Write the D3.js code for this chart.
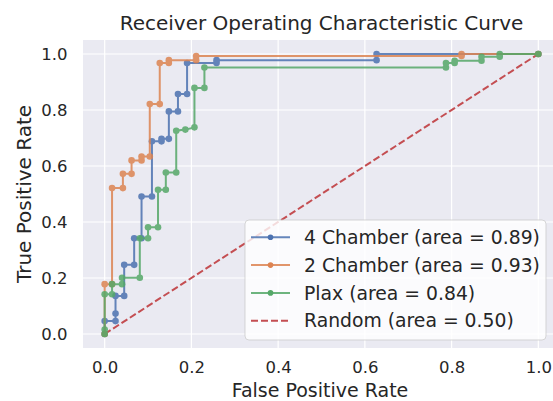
<!DOCTYPE html>
<html>
<head>
<meta charset="utf-8">
<script src="https://cdn.jsdelivr.net/npm/d3@7"></script>
<style>
  body { margin: 0; background: #ffffff; }
  text { font-family: "DejaVu Sans", sans-serif; fill: #262626; }
</style>
</head>
<body>
<div id="chart"></div>
<script>
// ROC points [fpr, tpr]
var fourChamber = [[0,0],[0,0.046],[0.025,0.046],[0.025,0.073],[0.025,0.136],[0.045,0.136],[0.045,0.247],[0.068,0.247],[0.068,0.342],[0.085,0.342],[0.085,0.491],[0.109,0.491],[0.109,0.688],[0.131,0.688],[0.131,0.697],[0.148,0.697],[0.148,0.795],[0.169,0.795],[0.169,0.857],[0.19,0.857],[0.19,0.968],[0.258,0.968],[0.258,0.978],[0.627,0.978],[0.627,1.0],[1,1]];
var twoChamber = [[0,0],[0,0.178],[0.017,0.178],[0.017,0.521],[0.042,0.521],[0.042,0.572],[0.062,0.572],[0.062,0.62],[0.085,0.62],[0.085,0.634],[0.104,0.634],[0.104,0.821],[0.127,0.821],[0.127,0.968],[0.148,0.968],[0.148,0.978],[0.211,0.978],[0.211,0.993],[0.823,0.993],[0.823,1.0],[1,1]];
var plax = [[0,0],[0,0.016],[0,0.142],[0.017,0.142],[0.017,0.178],[0.04,0.178],[0.04,0.201],[0.081,0.201],[0.081,0.342],[0.1,0.342],[0.1,0.381],[0.123,0.381],[0.123,0.515],[0.141,0.515],[0.141,0.577],[0.165,0.577],[0.165,0.726],[0.186,0.73],[0.207,0.738],[0.207,0.879],[0.23,0.879],[0.23,0.952],[0.787,0.952],[0.787,0.968],[0.807,0.968],[0.807,0.976],[0.869,0.976],[0.869,0.99],[0.911,0.99],[0.911,1.0],[1,1]];
var randomLine = [[0,0],[1,1]];

var seriesNames = ["4 Chamber (area = 0.89)", "2 Chamber (area = 0.93)", "Plax (area = 0.84)", "Random (area = 0.50)"];
var seriesColors = ["#4C72B0", "#DD8452", "#55A868", "#C44E52"];
var tickValues = [0, 0.2, 0.4, 0.6, 0.8, 1.0];

var W = 553, H = 401;
var box = { left: 83, right: 560, top: 40, bottom: 348 };

var svg = d3.select("#chart").append("svg")
    .attr("width", W)
    .attr("height", H)

var x = d3.scaleLinear().domain([-0.05, 1.05]).range([box.left, box.right]);
var y = d3.scaleLinear().domain([-0.05, 1.05]).range([box.bottom, box.top]);

svg.append("defs").append("clipPath").attr("id", "clip")
    .append("rect")
    .attr("x", box.left).attr("y", box.top)
    .attr("width", box.right - box.left).attr("height", box.bottom - box.top)

svg.append("rect")
    .attr("x", box.left).attr("y", box.top)
    .attr("width", box.right - box.left).attr("height", box.bottom - box.top)
    .attr("fill", "#EAEAF2")

//grid
svg.append("g").selectAll("line").data(tickValues).enter().append("line")
    .attr("x1", function(d){ return x(d); }).attr("x2", function(d){ return x(d); })
    .attr("y1", box.top).attr("y2", box.bottom)
    .attr("stroke", "#ffffff").attr("stroke-width", 1.2)
svg.append("g").selectAll("line").data(tickValues).enter().append("line")
    .attr("y1", function(d){ return y(d); }).attr("y2", function(d){ return y(d); })
    .attr("x1", box.left).attr("x2", box.right)
    .attr("stroke", "#ffffff").attr("stroke-width", 1.2)

//axes (no spines, no ticks)
var xAxisCall = d3.axisBottom(x).tickValues(tickValues).tickFormat(d3.format(".1f")).tickSize(0).tickPadding(13.5);
var xg = svg.append("g")
    .attr("transform", "translate(0," + box.bottom + ")")
    .call(xAxisCall)
xg.select(".domain").remove()
xg.selectAll("text").style("font-size", "16.5px").attr("fill", "#262626")

var yAxisCall = d3.axisLeft(y).tickValues(tickValues).tickFormat(d3.format(".1f")).tickSize(0).tickPadding(15.5);
var yg = svg.append("g")
    .attr("transform", "translate(" + box.left + ",0)")
    .call(yAxisCall)
yg.select(".domain").remove()
yg.selectAll("text").style("font-size", "16.5px").attr("fill", "#262626")

var line = d3.line()
    .x(function(d){ return x(d[0]); })
    .y(function(d){ return y(d[1]); })

var plot = svg.append("g").attr("clip-path", "url(#clip)")

plot.append("path")
    .datum(randomLine)
    .attr("d", line)
    .attr("fill", "none")
    .attr("stroke", seriesColors[3])
    .attr("stroke-width", 2)
    .attr("stroke-dasharray", "7,3")

var curves = [fourChamber, twoChamber, plax];
curves.forEach(function(pts, i) {
    var g = plot.append("g").attr("opacity", 0.85)
    g.append("path")
        .datum(pts)
        .attr("d", line)
        .attr("fill", "none")
        .attr("stroke", seriesColors[i])
        .attr("stroke-width", 2)
    g.selectAll("circle").data(pts).enter().append("circle")
        .attr("cx", function(d){ return x(d[0]); })
        .attr("cy", function(d){ return y(d[1]); })
        .attr("r", 3.3)
        .attr("fill", seriesColors[i])
})

//title and labels
svg.append("text")
    .attr("x", (box.left + box.right) / 2)
    .attr("y", 30)
    .attr("text-anchor", "middle")
    .style("font-size", "20px")
    .text("Receiver Operating Characteristic Curve")

svg.append("text")
    .attr("x", 320)
    .attr("y", 396.5)
    .attr("text-anchor", "middle")
    .style("font-size", "19px")
    .text("False Positive Rate")

svg.append("text")
    .attr("transform", "translate(31," + ((box.top + box.bottom) / 2) + ") rotate(-90)")
    .attr("text-anchor", "middle")
    .style("font-size", "20px")
    .text("True Positive Rate")

//legend
var legend = svg.append("g").attr("transform", "translate(245,220)")
legend.append("rect")
    .attr("width", 301).attr("height", 120).attr("rx", 4)
    .attr("fill", "#ffffff").attr("fill-opacity", 0.8)
    .attr("stroke", "#cccccc").attr("stroke-opacity", 0.8)

seriesNames.forEach(function(name, i) {
    var yy = 17.3 + i * 27.8;
    var row = legend.append("g").attr("transform", "translate(6," + yy + ")")
    row.append("line")
        .attr("x1", 0).attr("x2", 39)
        .attr("stroke", seriesColors[i])
        .attr("stroke-width", 2)
        .attr("opacity", i < 3 ? 0.85 : 1)
        .attr("stroke-dasharray", i == 3 ? "7,3" : null)
    if (i < 3) {
        row.append("circle").attr("cx", 19.5).attr("r", 2.8).attr("fill", seriesColors[i])
    }
    row.append("text")
        .attr("x", 53).attr("y", 6.7)
        .style("font-size", "18.8px")
        .text(name)
})
</script>
</body>
</html>
